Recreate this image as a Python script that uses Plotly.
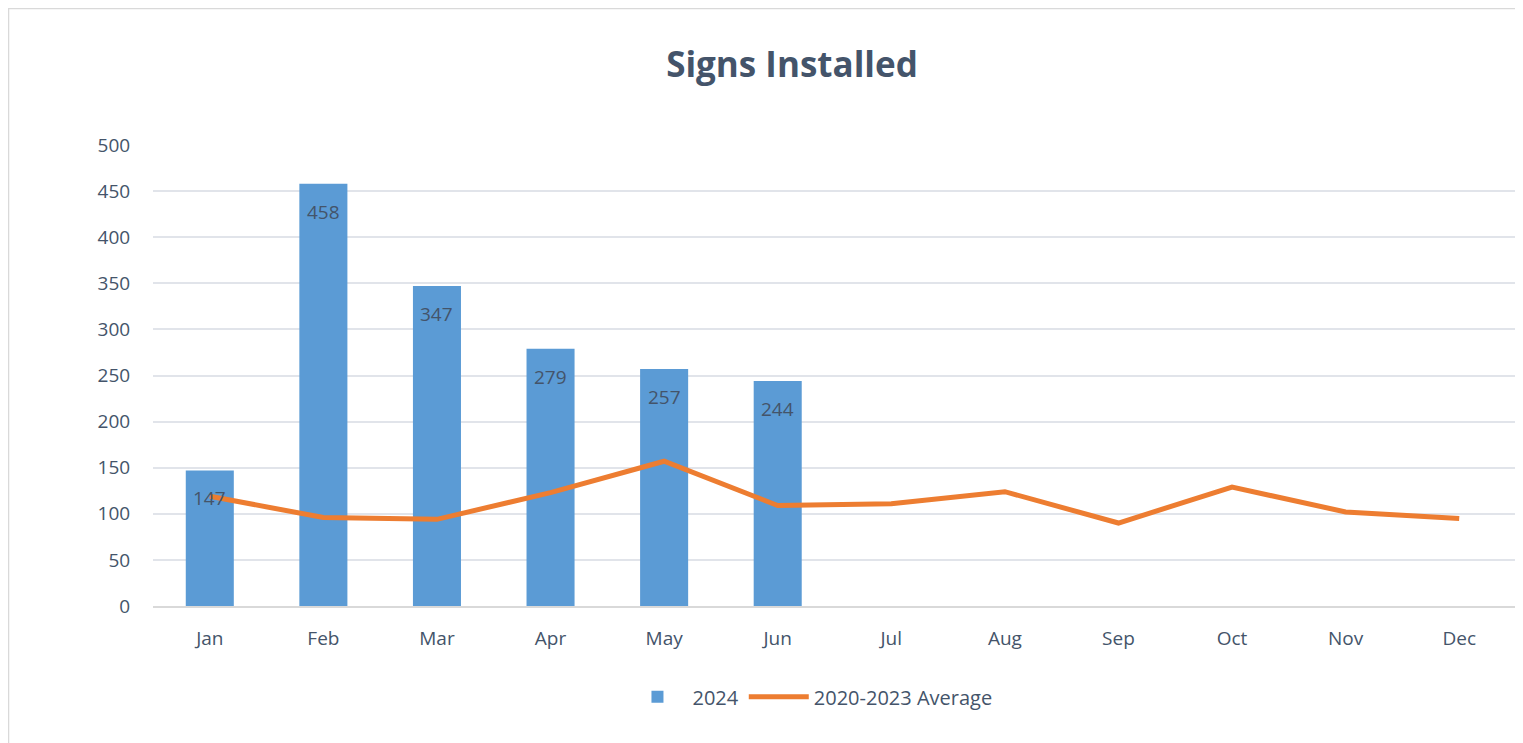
import plotly.graph_objects as go

months = ["Jan", "Feb", "Mar", "Apr", "May", "Jun", "Jul", "Aug", "Sep", "Oct", "Nov", "Dec"]
signs_2024 = [147, 458, 347, 279, 257, 244, None, None, None, None, None, None]
avg_2020_2023 = [119, 96, 94, 123, 157, 109, 111, 124, 90, 129, 102, 95]
y_ticks = [0, 50, 100, 150, 200, 250, 300, 350, 400, 450, 500]

TEXT = "#44546A"
FONT = "Open Sans"

fig = go.Figure()
fig.add_trace(go.Bar(
    x=months, y=signs_2024, name="2024",
    marker=dict(color="#5B9BD5", line=dict(width=0)),
))
fig.add_trace(go.Scatter(
    x=months, y=avg_2020_2023, name="2020-2023 Average", mode="lines",
    line=dict(color="#ED7D31", width=5),
))

for m, v in zip(months, signs_2024):
    if v is not None:
        fig.add_annotation(x=m, y=v, text=str(v), showarrow=False, yshift=-28,
                           yanchor="middle", font=dict(family=FONT, size=19, color=TEXT))

fig.add_shape(type="rect", xref="paper", yref="paper", x0=-0.1060, x1=1.0007, y0=-0.4, y1=1.296,
              line=dict(color="#D9D9D9", width=1.5), fillcolor="rgba(0,0,0,0)", layer="below")

fig.update_layout(
    width=1523, height=743,
    margin=dict(l=145, r=15, t=137, b=145),
    paper_bgcolor="white", plot_bgcolor="white",
    bargap=0.577,
    font=dict(family=FONT, size=19, color=TEXT),
    title=dict(text="<b>Signs Installed</b>", x=784 / 1523, xanchor="center", xref="container",
               y=1 - 57 / 743, yref="container", yanchor="middle",
               font=dict(family=FONT, size=35, color=TEXT)),
    legend=dict(orientation="h", x=0.482, xanchor="center", y=-0.197, yanchor="middle",
                font=dict(family=FONT, size=20, color=TEXT), itemwidth=60, traceorder="normal"),
    showlegend=True,
)
fig.update_xaxes(showgrid=False, showline=True, linecolor="#D9D9D9", linewidth=2,
                 ticks="outside", ticklen=14, tickcolor="rgba(0,0,0,0)",
                 tickfont=dict(family=FONT, size=19, color=TEXT))
fig.update_yaxes(range=[0, 500], tickvals=y_ticks, showgrid=True, gridcolor="#E1E4EA", gridwidth=1.5,
                 zeroline=False, ticks="outside", ticklen=18, tickcolor="rgba(0,0,0,0)",
                 tickfont=dict(family=FONT, size=19, color=TEXT))

fig.write_html("out.html")
